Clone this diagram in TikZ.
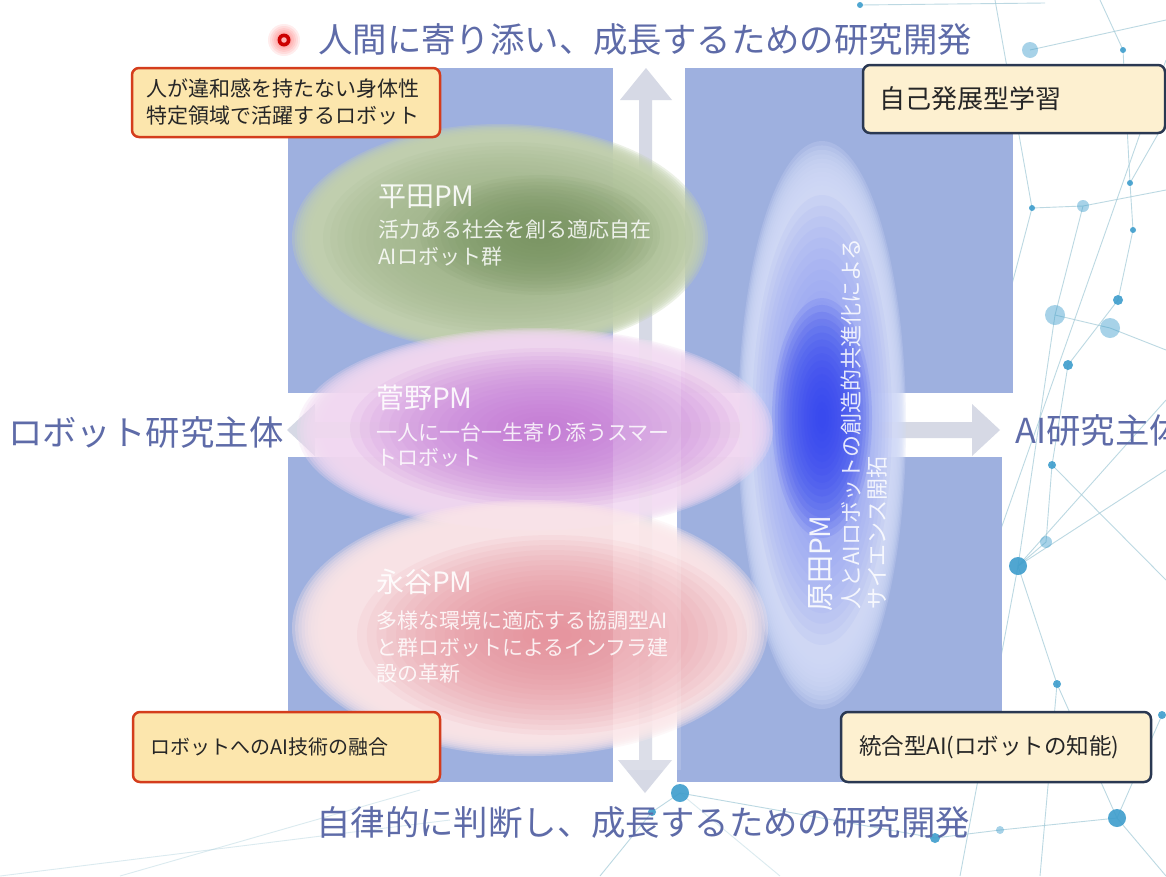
\documentclass[tikz,border=0pt]{standalone}
\usepackage{fontspec}
\newfontfamily\jp{Noto Sans CJK JP}
\definecolor{quadblue}{HTML}{9EB0DF}
\definecolor{ttlcol}{HTML}{5E6BA8}
\definecolor{arrcol}{HTML}{D6D9E5}
\definecolor{ofill}{HTML}{FCE6AD}
\definecolor{oedge}{HTML}{D43D1C}
\definecolor{nfill}{HTML}{FDF0D0}
\definecolor{nedge}{HTML}{2A3852}
\definecolor{netline}{HTML}{A6CCD9}
\definecolor{netdot}{HTML}{3D9DCC}
\definecolor{gOut}{HTML}{C3D1AE}
\definecolor{gMid}{HTML}{A0B58A}
\definecolor{gIn}{HTML}{76925F}
\definecolor{pOut}{HTML}{F1D8F1}
\definecolor{pIn}{HTML}{C274D6}
\definecolor{rOut}{HTML}{FBE5E8}
\definecolor{rIn}{HTML}{E68B95}
\definecolor{bOut}{HTML}{D2DAF7}
\definecolor{bMid}{HTML}{8696F2}
\definecolor{bIn}{HTML}{3344EE}
% soft ellipse: colour, centre, rx, ry, steps, inner fraction, opacity per step
\newcommand\blurell[7]{%
  \foreach \k in {0,...,#5} {%
    \pgfmathsetmacro\bscale{1-(1-#6)*\k/#5}%
    \fill[#1, opacity=#7] #2 ellipse [x radius={#3*\bscale}, y radius={#4*\bscale}];
  }}
\begin{document}
\begin{tikzpicture}[x=1pt,y=-1pt,
  ttl/.style={font=\jp\fontsize{34.4}{40}\selectfont, text=ttlcol, inner sep=0pt, anchor=west},
  boxo/.style={draw=oedge, fill=ofill, line width=2.5pt, rounded corners=7pt, inner ysep=0pt, align=left, text=black!85},
  boxn/.style={boxo, draw=nedge, fill=nfill},
  pmname/.style={font=\jp\fontsize{28}{32}\selectfont, text=white, text opacity=0.9, inner sep=0pt, anchor=west},
  pmsub/.style={font=\jp\fontsize{21}{26}\selectfont, text=white, text opacity=0.85, inner sep=0pt, anchor=west},
  quad/.style={fill=quadblue},
  arrowshape/.style={fill=arrcol},
  netl/.style={draw=netline, line width=0.9pt, opacity=0.75},
  netd/.style={fill=netdot, opacity=0.9},
  netf/.style={fill=netdot, opacity=0.45},
]
\useasboundingbox (0,0) rectangle (1166,876);
\clip (0,0) rectangle (1166,876);
\fill[white] (0,0) rectangle (1166,876);

% ---- background network ----
\coordinate (na) at (1030,50);
\coordinate (nb) at (1123,50);
\coordinate (nc) at (1032,208);
\coordinate (nd) at (1083,206);
\coordinate (ne) at (1130,183);
\coordinate (nf) at (1133,230);
\coordinate (ng) at (1055,315);
\coordinate (nh) at (1118,300);
\coordinate (ni) at (1110,328);
\coordinate (nj) at (1068,365);
\coordinate (nk) at (1052,465);
\coordinate (nl) at (1046,542);
\coordinate (nm) at (1018,566);
\coordinate (nn) at (1057,684);
\coordinate (no) at (1117,818);
\coordinate (nq) at (680,793);
\coordinate (nr) at (652,812);
\coordinate (ns) at (1000,830);
\coordinate (nt) at (860,5);
\coordinate (nu) at (935,838);
\coordinate (nv) at (1162,715);
\draw[netl] (nt) -- (1045,3);
\draw[netl] (995,0) -- (nc) -- (1000,330);
\draw[netl] (na) -- (1166,20);
\draw[netl] (nb) -- (1100,0);
\draw[netl] (nb) -- (ne);
\draw[netl] (nc) -- (nd) -- (1166,190);
\draw[netl] (ne) -- (nf) -- (nh);
\draw[netl] (ne) -- (1166,120);
\draw[netl] (nd) -- (ng);
\draw[netl] (ng) -- (ni) -- (1166,350);
\draw[netl] (nh) -- (nj) -- (nk);
\draw[netl] (ng) -- (nm);
\draw[netl] (nk) -- (nl) -- (nm);
\draw[netl] (nm) -- (nn) -- (no);
\draw[netl] (nm) -- (1166,470);
\draw[netl] (1166,60) -- (990,560);
\draw[netl] (1166,580) -- (nk);
\draw[netl] (no) -- (1166,876);
\draw[netl] (no) -- (ns) -- (nu);
\draw[netl] (nq) -- (nu);
\draw[netl] (nq) -- (nr) -- (600,876);
\draw[netl] (no) -- (nv);
\draw[netl] (1040,876) -- (nn);
\draw[netl] (1166,400) -- (nm) -- (960,876);
\draw[netl, opacity=0.4] (0,876) -- (450,820);
\draw[netl, opacity=0.4] (120,876) -- (420,790);
\draw[netl, opacity=0.4] (780,876) -- (nq);
\fill[netf] (na) circle (8);
\fill[netd] (nb) circle (3);
\fill[netd] (nc) circle (3);
\fill[netf] (nd) circle (6);
\fill[netd] (ne) circle (3);
\fill[netd] (nf) circle (3);
\fill[netf] (ng) circle (10);
\fill[netd] (nh) circle (5);
\fill[netf] (ni) circle (10);
\fill[netd] (nj) circle (5);
\fill[netd] (nk) circle (4);
\fill[netf] (nl) circle (6);
\fill[netd] (nm) circle (9);
\fill[netd] (nn) circle (4);
\fill[netd] (no) circle (9);
\fill[netd] (nq) circle (9);
\fill[netd] (nr) circle (4);
\fill[netf] (ns) circle (4);
\fill[netd] (nt) circle (3);
\fill[netd] (nu) circle (5);
\fill[netd] (nv) circle (4);

% ---- quadrants ----
\fill[quad] (288,68) rectangle (613,393);
\fill[quad] (685,68) rectangle (1013,393);
\fill[quad] (288,457) rectangle (613,782);
\fill[quad] (677,457) rectangle (1002,782);

% ---- axis arrows ----
\fill[arrowshape] (646,68) -- (672,100) -- (652,100) -- (652,760) -- (672,760) -- (645,793)
  -- (618,760) -- (639,760) -- (639,100) -- (620,100) -- cycle;
\fill[arrowshape] (287,430) -- (315,404) -- (315,422) -- (972,422) -- (972,404) -- (1000,430)
  -- (972,456) -- (972,438) -- (315,438) -- (315,456) -- cycle;

% ---- blurred ellipses ----
\blurell{bOut}{(822,425)}{84}{284}{18}{0.72}{0.25}
\blurell{bMid}{(822,420)}{70}{225}{18}{0.15}{0.09}
\blurell{bIn}{(822,418)}{50}{120}{16}{0.08}{0.12}

\blurell{gOut}{(500,238)}{208}{114}{18}{0.78}{0.3}
\blurell{gMid}{(508,238)}{185}{96}{18}{0.3}{0.1}
\blurell{gIn}{(540,235)}{120}{60}{16}{0.08}{0.09}

\blurell{pOut}{(535,430)}{238}{102}{18}{0.76}{0.3}
\blurell{pIn}{(545,428)}{195}{80}{18}{0.1}{0.09}

\blurell{rOut}{(530,628)}{238}{128}{18}{0.76}{0.3}
\blurell{rIn}{(552,635)}{195}{100}{18}{0.1}{0.085}

\fill[white, opacity=0.15] (613,340) rectangle (681,770);

% ---- ellipse texts ----
\node[pmname] (hiratan) at (378,197) {平田PM};
\node[pmsub] (hirata1) at (378,230) {活力ある社会を創る適応自在};
\node[pmsub] (hirata2) at (378,257) {AIロボット群};
\node[pmname] (suganon) at (376,398) {菅野PM};
\node[pmsub] (sugano1) at (376,432) {一人に一台一生寄り添うスマー};
\node[pmsub] (sugano2) at (376,458) {トロボット};
\node[pmname] (nagatanin) at (376,582) {永谷PM};
\node[pmsub] (nagatani1) at (376,621) {多様な環境に適応する協調型AI};
\node[pmsub] (nagatani2) at (376,648) {と群ロボットによるインフラ建};
\node[pmsub] (nagatani3) at (376,674) {設の革新};
\node[pmname, rotate=90] (haradan) at (821,612) {原田PM};
\node[pmsub, rotate=90, font=\jp\fontsize{22}{26}\selectfont] (harada1) at (851,610) {人とAIロボットの創造的共進化による};
\node[pmsub, rotate=90, font=\jp\fontsize{22}{26}\selectfont] (harada2) at (877,610) {サイエンス開拓};

% ---- corner boxes ----
\node[boxo, minimum width=308pt, minimum height=69pt, inner xsep=14pt, text width=280pt,
  font=\jp\fontsize{21}{27}\selectfont] (boxtl) at (286,102.5)
  {人が違和感を持たない身体性\\特定領域で活躍するロボット};
\node[boxn, minimum width=302pt, minimum height=68pt, inner xsep=16pt, text width=270pt,
  font=\jp\fontsize{26}{30}\selectfont] (boxtr) at (1014,99) {自己発展型学習};
\node[boxo, minimum width=307pt, minimum height=70pt, inner xsep=17pt, text width=273pt,
  font=\jp\fontsize{20}{25}\selectfont] (boxbl) at (286.5,747) {ロボットへのAI技術の融合};
\node[boxn, minimum width=310pt, minimum height=70pt, inner xsep=18pt, text width=274pt,
  font=\jp\fontsize{22.5}{26}\selectfont] (boxbr) at (996,747) {統合型AI(ロボットの知能)};

% ---- titles and axis labels ----
\foreach \r in {16,14,12,10,8} {\fill[red, opacity=0.07] (284,40) circle (\r);}
\node[circle, fill=red!80!black, minimum size=13pt, inner sep=0pt] (bullet) at (284,40) {};
\fill[red!30] (bullet.center) circle (2.8);
\node[ttl] (toptitle) at (318,40) {人間に寄り添い、成長するための研究開発};
\node[ttl] (bottitle) at (316,822) {自律的に判断し、成長するための研究開発};
\node[ttl] (leftlab) at (8,432) {ロボット研究主体};
\node[ttl] (rightlab) at (1015,430) {AI研究主体};
\end{tikzpicture}
\end{document}
